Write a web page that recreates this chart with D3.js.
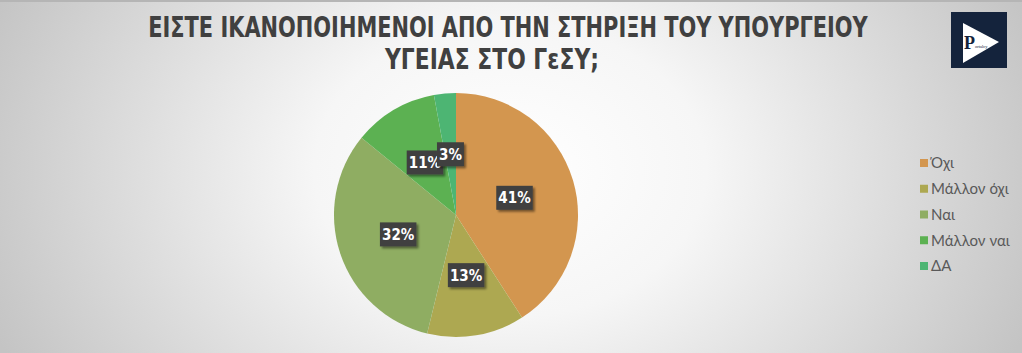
<!DOCTYPE html>
<html>
<head>
<meta charset="utf-8">
<script src="https://cdn.jsdelivr.net/npm/d3@7"></script>
<style>
  html, body { margin: 0; padding: 0; background: #fff; }
  svg { display: block; }
</style>
</head>
<body>
<div id="chart"></div>
<script>
// data
const categories = ['Όχι', 'Μάλλον όχι', 'Ναι', 'Μάλλον ναι', 'ΔΑ'];
const values = [40.9, 12.9, 32.1, 11.2, 2.9];
const colors = ['#D3964F', '#ADA851', '#8FAD62', '#5CB152', '#4DB573'];
const titleLines = ['ΕΙΣΤΕ ΙΚΑΝΟΠΟΙΗΜΕΝΟΙ ΑΠΟ ΤΗΝ ΣΤΗΡΙΞΗ ΤΟΥ ΥΠΟΥΡΓΕΙΟΥ', 'ΥΓΕΙΑΣ ΣΤΟ ΓεΣΥ;'];

const W = 1022, H = 353;
const cx = 456, cy = 215, R = 122;

const svg = d3.select('#chart').append('svg')
  .attr('width', W)
  .attr('height', H);

const defs = svg.append('defs');
const bg = defs.append('radialGradient')
  .attr('id', 'bg')
  .attr('gradientUnits', 'userSpaceOnUse')
  .attr('cx', 510).attr('cy', 170).attr('r', 560)
  .attr('gradientTransform', 'translate(510,170) scale(1,0.75) translate(-510,-170)');
bg.append('stop').attr('offset', '0%').attr('stop-color', '#ffffff');
bg.append('stop').attr('offset', '35%').attr('stop-color', '#f6f6f6');
bg.append('stop').attr('offset', '100%').attr('stop-color', '#c4c4c4');

const shadow = defs.append('filter').attr('id', 'shd')
  .attr('x', '-20%').attr('y', '-20%').attr('width', '150%').attr('height', '160%');
shadow.append('feDropShadow')
  .attr('dx', 2).attr('dy', 2).attr('stdDeviation', 1.2)
  .attr('flood-color', '#000').attr('flood-opacity', 0.45);

svg.append('rect')
  .attr('width', W).attr('height', H)
  .attr('fill', 'url(#bg)');
svg.append('rect')
  .attr('width', W).attr('height', 2)
  .attr('fill', '#b5b5b5');

// title: narrow the font so each line fits its measured width, then stretch it back up
const titlePos = [{ x: 508, y: 37, w: 720 }, { x: 492, y: 69, w: 214 }];
const capSize = 29;
titleLines.forEach((line, i) => {
  const p = titlePos[i];
  const t = svg.append('text')
    .attr('font-family', '"DejaVu Sans Condensed", "DejaVu Sans", sans-serif')
    .attr('font-weight', 'bold')
    .attr('fill', '#404040')
    .attr('text-anchor', 'middle')
    .attr('font-size', capSize)
    .text(line);
  const natural = t.node().getComputedTextLength();
  const fs = Math.min(capSize, capSize * p.w / natural);
  t.attr('font-size', fs)
    .attr('transform', `translate(${p.x},${p.y}) scale(1,${capSize / fs})`);
});

// logo
const logo = svg.append('g').attr('transform', 'translate(951,12)');
logo.append('rect').attr('width', 56).attr('height', 56).attr('fill', '#14233c');
logo.append('path').attr('d', 'M12,11 L48,30 L12,51 Z').attr('fill', '#ffffff');
const logoText = logo.append('text')
  .attr('x', 13).attr('y', 37)
  .attr('font-family', '"Liberation Serif", serif')
  .attr('fill', '#14233c');
logoText.append('tspan').attr('font-size', 18).attr('font-weight', 'bold').text('P');
logoText.append('tspan').attr('font-size', 4.5).attr('dy', -1).text('ortalcy');

// pie
const data = categories.map((c, i) => ({ name: c, value: values[i], color: colors[i] }));
const pie = d3.pie().value(d => d.value).sort(null);
const arc = d3.arc().innerRadius(0).outerRadius(R);
const arcs = pie(data);

const g = svg.append('g').attr('transform', `translate(${cx},${cy})`);
g.selectAll('path.slice')
  .data(arcs)
  .enter().append('path')
  .attr('class', 'slice')
  .attr('d', arc)
  .attr('fill', d => d.data.color)
  .attr('stroke', 'none');

// data labels
const total = d3.sum(values);
const fmt = d3.format('.0%');
const labels = g.selectAll('g.lbl')
  .data(arcs)
  .enter().append('g')
  .attr('class', 'lbl')
  .attr('transform', d => {
    const [x, y] = arc.centroid(d);
    return `translate(${x},${y})`;
  });
labels.each(function (d) {
  const sel = d3.select(this);
  const txt = fmt(d.data.value / total);
  const w = txt.length * 9.5 + 8;
  sel.append('rect')
    .attr('x', -w / 2).attr('y', -12)
    .attr('width', w).attr('height', 24)
    .attr('fill', '#404040')
    .attr('filter', 'url(#shd)');
  sel.append('text')
    .attr('text-anchor', 'middle')
    .attr('dy', '0.36em')
    .attr('font-family', '"DejaVu Sans Condensed", "DejaVu Sans", sans-serif')
    .attr('font-weight', 'bold')
    .attr('font-size', 15)
    .attr('fill', '#ffffff')
    .text(txt);
});

// legend
const legendY = d3.scalePoint().domain(categories).range([163, 266]);
const legend = svg.append('g').selectAll('g')
  .data(data)
  .enter().append('g')
  .attr('transform', d => `translate(920,${legendY(d.name)})`);
legend.append('rect')
  .attr('x', 0).attr('y', -4)
  .attr('width', 8).attr('height', 8)
  .attr('fill', d => d.color);
legend.append('text')
  .attr('x', 11).attr('dy', '0.35em')
  .attr('font-family', 'Lato, "Open Sans", sans-serif')
  .attr('font-size', 15)
  .attr('fill', '#595959')
  .text(d => d.name);
</script>
</body>
</html>
